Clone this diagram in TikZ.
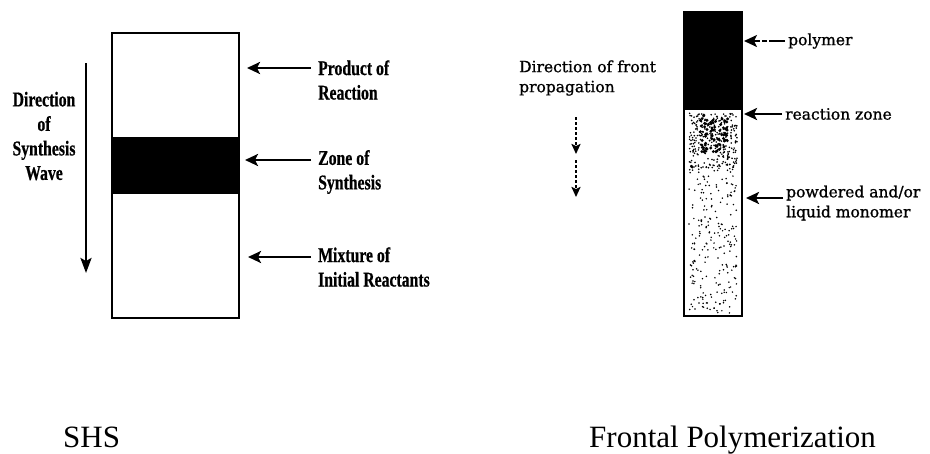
\documentclass[tikz,border=0pt]{standalone}
\usepackage{fontspec}
\setmainfont{Liberation Serif}
\newfontfamily\scanfont[FakeStretch=0.75,FakeBold=0.6]{Liberation Serif}
\newfontfamily\polyfont[FakeBold=1]{DejaVu Serif}
\usetikzlibrary{arrows.meta}

\begin{document}
\begin{tikzpicture}[x=1pt, y=-1pt,
		lbl/.style={font={\scanfont\bfseries\fontsize{21}{24.5}\selectfont}, align=left, inner xsep=7pt, inner ysep=0pt},
		plbl/.style={font={\polyfont\fontsize{15.5}{20}\selectfont}, align=left, inner xsep=3pt, inner ysep=0pt},
		arr/.style={-{Stealth[length=13pt,width=12pt,inset=3pt]}, line width=2.6pt},
		darr/.style={-{Stealth[length=10pt,width=9pt,inset=2pt]}, line width=2.4pt, dash pattern=on 3pt off 2pt},
		captxt/.style={font={\fontsize{31}{36}\selectfont}, inner sep=0pt}]
		\useasboundingbox (0,0) rectangle (930,453);
		% SHS column
		\draw[line width=2.6pt] (112,33) rectangle (239,318);
		\fill[black] (112,137) rectangle (239,194);
		\coordinate (dirtop) at (86,63);
		\coordinate (dirbot) at (86,273);
		\draw[-{Stealth[length=15pt,width=11pt,inset=3pt]}, line width=2.6pt] (dirtop) -- (dirbot);
		\node[lbl, align=center, inner xsep=0pt] (dirtxt) at (44,136) {Direction\\of\\Synthesis\\Wave};
		% labels and arrows, SHS
		\node[lbl, anchor=west] (prod) at (311,80) {Product of\\Reaction};
		\node[lbl, anchor=west] (zone) at (311,172) {Zone of\\Synthesis};
		\node[lbl, anchor=west] (mix) at (311,267) {Mixture of\\Initial Reactants};
		\coordinate (prodtip) at (247,68);
		\coordinate (zonetip) at (245,160);
		\coordinate (mixtip) at (248,257);
		\draw[arr] (prod.west |- prodtip) -- (prodtip);
		\draw[arr] (zone.west |- zonetip) -- (zonetip);
		\draw[arr] (mix.west |- mixtip) -- (mixtip);
		% Frontal polymerization column
		\fill[black] (684,12) rectangle (742,110);
		\pgfmathsetseed{42}
		\foreach \i in {1,...,70}
			\fill ({700+28*rnd},{115+38*rnd}) circle (1.6);
		\foreach \i in {1,...,220}
			\fill ({689+48*rnd},{113+55*rnd}) circle (0.9);
		\foreach \i in {1,...,300}
			\fill ({689+48*rnd},{113+200*rnd}) circle (0.85);
		\draw[line width=2.8pt] (684,12) rectangle (742,316);
		\node[plbl, anchor=west] (dirfront) at (516,78) {Direction of front\\propagation};
		\coordinate (fa) at (576,117);
		\coordinate (fb) at (576,154);
		\coordinate (fc) at (576,160);
		\coordinate (fd) at (576,197);
		\draw[darr] (fa) -- (fb);
		\draw[darr] (fc) -- (fd);
		% labels and arrows, frontal
		\node[plbl, anchor=west] (poly) at (785,41) {polymer};
		\node[plbl, anchor=west] (rzone) at (782,114) {reaction zone};
		\node[plbl, anchor=west] (mono) at (783,203) {powdered and/or\\liquid monomer};
		\coordinate (polytip) at (744,41);
		\coordinate (rzonetip) at (744,114);
		\coordinate (monotip) at (746,198);
		\draw[arr, line width=2.2pt, dash pattern=on 16pt off 2pt on 5pt off 2pt] (poly.west |- polytip) -- (polytip);
		\draw[arr] (rzone.west |- rzonetip) -- (rzonetip);
		\draw[arr] (mono.west |- monotip) -- (monotip);
		% Text below
		\node[captxt, anchor=base west] (shs) at (63,447) {SHS};
		\node[captxt, anchor=base west] (fp) at (589,447) {Frontal Polymerization};
	\end{tikzpicture}
\end{document}
